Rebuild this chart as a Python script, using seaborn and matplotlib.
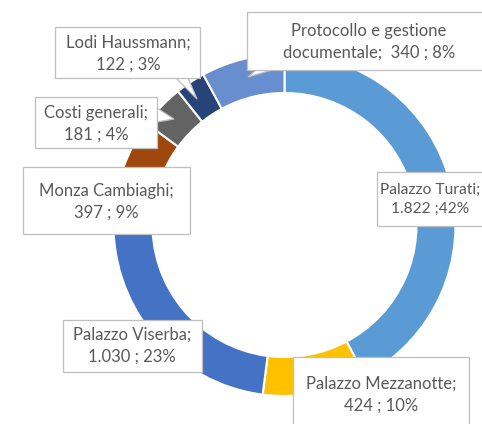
import matplotlib
matplotlib.use("Agg")
import matplotlib.pyplot as plt
from matplotlib.patches import Rectangle, Polygon
import seaborn as sns

# data
names = ["Palazzo Turati", "Palazzo Mezzanotte", "Palazzo Viserba", "Monza Cambiaghi",
         "Costi generali", "Lodi Haussmann", "Protocollo e gestione\ndocumentale"]
values = [1822, 424, 1030, 397, 181, 122, 340]
value_labels = ["1.822", "424", "1.030", "397", "181", "122", "340"]
pct_labels = ["42%", "10%", "23%", "9%", "4%", "3%", "8%"]
colors = ["#5B9BD5", "#FFC000", "#4472C4", "#9E480E", "#636363", "#264478", "#698ED0"]

W, H = 482, 424
CX, CY, R = 284.5, 225, 171   # donut centre / radius in pixels

sns.set_style("white")
plt.rcParams["font.family"] = ["Lato", "DejaVu Sans"]

fig = plt.figure(figsize=(W / 100, H / 100), dpi=100)
ax = fig.add_axes([0, 0, 1, 1])

ax.pie(values, colors=colors, startangle=90, counterclock=False, radius=1,
       wedgeprops=dict(width=0.228, edgecolor="white", linewidth=1.5))
ax.set_xlim(-CX / R, (W - CX) / R)
ax.set_ylim(-(H - CY) / R, CY / R)
ax.set_aspect("auto")
ax.axis("off")

# label boxes: left, top, right, bottom (pixels from top-left)
boxes = [(377, 172, 500, 226), (293, 357, 469, 440), (63, 320, 202, 372),
         (23, 167, 190, 234), (35, 97, 157, 148), (55, 27, 200, 78),
         (247, 12, 490, 70)]
text_x = [430, 381, 132, 106, 96, 128, 369]
text_y = [199, 395, 346, 202, 124, 54, 42]
text_size = [11.2, 12, 12, 12, 12, 12, 12]

def fx(px):
    return px / W

def fy(py):
    return 1 - py / H

box_col = "#BFBFBF"
txt_col = "#595959"

# callout pointers
pointers = {5: [(176, 78), (197, 99), (188, 78)],
            4: [(157, 108), (174, 119), (157, 122)],
            6: [(256, 70), (248, 77), (272, 70)]}
for i, pts in pointers.items():
    ax.add_patch(Polygon([(fx(a), fy(b)) for a, b in pts], closed=False,
                         transform=ax.transAxes, fc="white", ec=box_col, lw=0.9, zorder=3))

for i in range(len(values)):
    l, t, r, b = boxes[i]
    ax.add_patch(Rectangle((fx(l), fy(b)), fx(r) - fx(l), fy(t) - fy(b),
                           transform=ax.transAxes, fc="white", ec=box_col, lw=0.9,
                           zorder=4, clip_on=False))
    if i == 6:
        txt = f"Protocollo e gestione\ndocumentale;  {value_labels[i]} ; {pct_labels[i]}"
    elif i == 0:
        txt = f"{names[i]};\n{value_labels[i]} ;{pct_labels[i]}"
    else:
        txt = f"{names[i]};\n{value_labels[i]} ; {pct_labels[i]}"
    ax.text(fx(text_x[i]), fy(text_y[i]), txt,
            transform=ax.transAxes, ha="center", va="center", fontsize=text_size[i],
            color=txt_col, linespacing=1.45, zorder=5)

fig.savefig("out.png", dpi=100)
